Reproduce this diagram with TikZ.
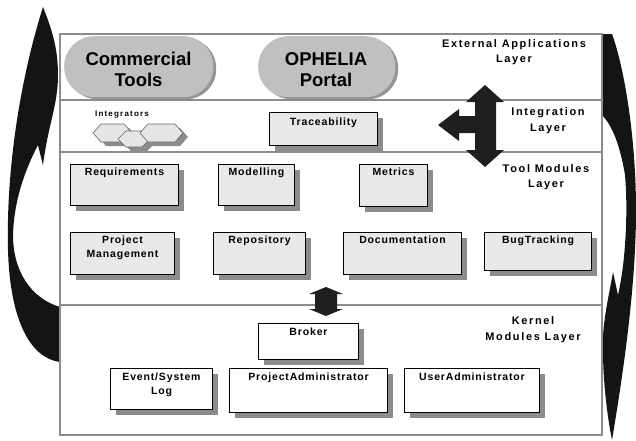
\documentclass[tikz,border=0pt]{standalone}
\usepackage{fontspec}
\setmainfont{Liberation Sans}
\newfontfamily\lbl[LetterSpace=8]{Liberation Sans}
\newfontfamily\ttl[LetterSpace=15]{Liberation Sans}
\usetikzlibrary{shadows}
\definecolor{framegray}{RGB}{140,140,140}
\definecolor{boxfill}{RGB}{232,232,232}
\definecolor{shadowgray}{RGB}{140,140,140}
\definecolor{ovalfill}{RGB}{192,192,192}
\definecolor{ovalshadow}{RGB}{150,150,150}
\begin{document}
\begin{tikzpicture}[x=1pt,y=-1pt,
  modbox/.style={draw=black, line width=1pt, fill=boxfill, anchor=north west, inner sep=0pt,
    drop shadow={shadow xshift=5pt,shadow yshift=-5pt,fill=shadowgray,opacity=1}},
  kbox/.style={modbox, fill=white},
  modlbl/.style={font=\lbl\bfseries\fontsize{10.5}{13.5}\selectfont, anchor=north, inner sep=0pt, align=center},
  layerlbl/.style={font=\ttl\bfseries\fontsize{11}{15.5}\selectfont, align=center, inner sep=0pt},
  oval/.style={fill=ovalfill, rounded corners=30pt, inner sep=0pt, anchor=north west,
    drop shadow={shadow xshift=3pt,shadow yshift=-2pt,fill=ovalshadow,opacity=1}},
  ovallbl/.style={font=\bfseries\fontsize{18.5}{21}\selectfont, align=center, inner sep=0pt},
  swoosh/.style={fill=black!92},
  bigarrow/.style={fill=black!88},
  hex/.style={fill=black!10, draw=black!60, line width=0.6pt},
  hexshadow/.style={fill=black!45},
]
\useasboundingbox (0,0) rectangle (636,440);
\fill[white] (0,0) rectangle (636,440);

% swooshes
\fill[swoosh] (43,7) .. controls (50,25) and (58,45) .. (58,75)
  .. controls (58,105) and (48,125) .. (43,165) -- (38,145)
  .. controls (25,170) and (14,200) .. (13,235)
  .. controls (13,270) and (30,298) .. (60,307) -- (60,362)
  .. controls (30,358) and (10,320) .. (8,250)
  .. controls (6,170) and (20,80) .. (43,7) -- cycle;
\fill[swoosh] (602,34) -- (612,34)
  .. controls (625,70) and (636,140) .. (636,210)
  .. controls (636,290) and (622,380) .. (612,440)
  .. controls (606,410) and (602,370) .. (603,335)
  .. controls (605,310) and (610,290) .. (613,272) -- (618,295)
  .. controls (626,260) and (628,210) .. (625,175)
  .. controls (620,145) and (612,125) .. (602,115) -- cycle;

% frame
\draw[framegray, line width=1.5pt] (60,34) rectangle (602,435);
\draw[framegray, line width=2pt] (60,100) -- (602,100);
\draw[framegray, line width=2pt] (60,152) -- (602,152);
\draw[framegray, line width=2pt] (60,305) -- (602,305);

% external applications layer
\node[oval, minimum width=149pt, minimum height=61pt] (ct) at (64,36) {};
\node[ovallbl] (ct-t) at (138.5,69.5) {Commercial\\Tools};
\node[oval, minimum width=137pt, minimum height=61pt] (op) at (258,36) {};
\node[ovallbl] (op-t) at (326,69.5) {OPHELIA\\Portal};
\node[layerlbl] (l1) at (514,52) {External Applications\\Layer};

% integration layer
\node[font=\ttl\bfseries\fontsize{8}{10}\selectfont, inner sep=0pt] (integ) at (122,115) {Integrators};
\begin{scope}[shift={(5,4)}]
\fill[hexshadow] (93,133) -- (101,124) -- (124,124) -- (132,133) -- (124,142) -- (101,142) -- cycle;
\fill[hexshadow] (118,139) -- (126,131) -- (142,131) -- (150,139) -- (142,147) -- (126,147) -- cycle;
\fill[hexshadow] (140,133) -- (148,124) -- (175,124) -- (183,133) -- (175,142) -- (148,142) -- cycle;
\end{scope}
\filldraw[hex] (93,133) -- (101,124) -- (124,124) -- (132,133) -- (124,142) -- (101,142) -- cycle;
\filldraw[hex] (118,139) -- (126,131) -- (142,131) -- (150,139) -- (142,147) -- (126,147) -- cycle;
\filldraw[hex] (140,133) -- (148,124) -- (175,124) -- (183,133) -- (175,142) -- (148,142) -- cycle;

\node[modbox, minimum width=108pt, minimum height=33pt] (trace) at (269,112) {};
\node[modlbl] (trace-t) at ([yshift=-6pt]trace.north) {Traceability};
\node[layerlbl] (l2) at (548,120.5) {Integration\\Layer};

% big arrow
\fill[bigarrow] (485,85) -- (504,102) -- (496,102) -- (496,150) -- (504,150) -- (485,167)
  -- (466,150) -- (475,150) -- (475,133) -- (459,133) -- (459,141) -- (438,125)
  -- (459,109) -- (459,116) -- (475,116) -- (475,102) -- (466,102) -- cycle;

% tool modules layer
\node[modbox, minimum width=108pt, minimum height=41pt] (req) at (70,164) {};
\node[modlbl] (req-t) at ([yshift=-4pt]req.north) {Requirements};
\node[modbox, minimum width=76pt, minimum height=41pt] (mod) at (218,164) {};
\node[modlbl] (mod-t) at ([yshift=-4pt]mod.north) {Modelling};
\node[modbox, minimum width=68pt, minimum height=42pt] (met) at (359,164) {};
\node[modlbl] (met-t) at ([yshift=-4pt]met.north) {Metrics};
\node[modbox, minimum width=104pt, minimum height=42pt] (pm) at (70,232) {};
\node[modlbl] (pm-t) at ([yshift=-4pt]pm.north) {Project\\Management};
\node[modbox, minimum width=92pt, minimum height=42pt] (rep) at (213,232) {};
\node[modlbl] (rep-t) at ([yshift=-4pt]rep.north) {Repository};
\node[modbox, minimum width=118pt, minimum height=42pt] (doc) at (343,232) {};
\node[modlbl] (doc-t) at ([yshift=-4pt]doc.north) {Documentation};
\node[modbox, minimum width=107pt, minimum height=38pt] (bug) at (484,232) {};
\node[modlbl] (bug-t) at ([yshift=-4pt]bug.north) {BugTracking};
\node[layerlbl] (l3) at (546,177) {Tool Modules\\Layer};

% small double arrow
\fill[bigarrow] (326,287) -- (343,294) -- (337,294) -- (337,309) -- (343,309) -- (326,316)
  -- (309,309) -- (315,309) -- (315,294) -- (309,294) -- cycle;

% kernel modules layer
\node[kbox, minimum width=100pt, minimum height=36pt] (brk) at (258,323) {};
\node[modlbl] (brk-t) at ([yshift=-5pt]brk.north) {Broker};
\node[kbox, minimum width=102pt, minimum height=41pt] (evt) at (110,368) {};
\node[modlbl] (evt-t) at ([yshift=-5pt]evt.north) {Event/System\\Log};
\node[kbox, minimum width=158pt, minimum height=44pt] (pad) at (229,368) {};
\node[modlbl] (pad-t) at ([yshift=-5pt]pad.north) {ProjectAdministrator};
\node[kbox, minimum width=135pt, minimum height=44pt] (uad) at (404,368) {};
\node[modlbl] (uad-t) at ([yshift=-5pt]uad.north) {UserAdministrator};
\node[layerlbl] (l4) at (533,329.5) {Kernel\\Modules Layer};
\end{tikzpicture}
\end{document}
